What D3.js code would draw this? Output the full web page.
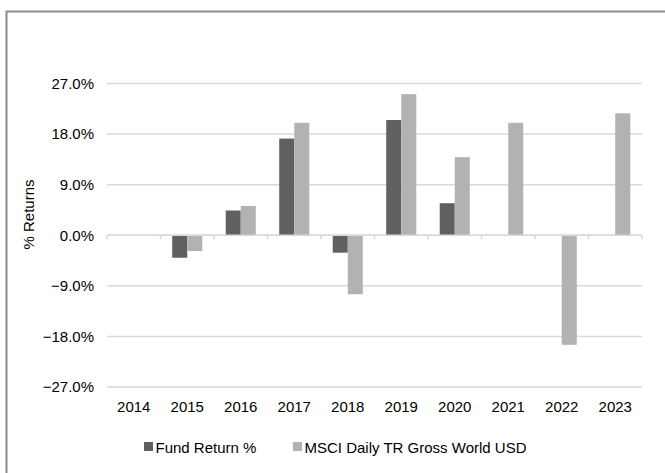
<!DOCTYPE html>
<html>
<head>
<meta charset="utf-8">
<script src="https://cdn.jsdelivr.net/npm/d3@7"></script>
<style>
  body { margin: 0; background: #fff; overflow: hidden; }
  svg { display: block; font-family: "Liberation Sans", Arial, sans-serif; }
</style>
</head>
<body>
<svg id="chart"></svg>
<script>
// data
const years = ["2014", "2015", "2016", "2017", "2018", "2019", "2020", "2021", "2022", "2023"];
const fundReturn = [null, -4.0, 4.4, 17.2, -3.1, 20.5, 5.7, null, null, null];
const msciReturn = [null, -2.8, 5.2, 20.0, -10.5, 25.1, 13.9, 20.0, -19.5, 21.7];
const seriesNames = ["Fund Return %", "MSCI Daily TR Gross World USD"];
const yTicks = [-27, -18, -9, 0, 9, 18, 27];

const width = 665, height = 473;
const colors = ["#606060", "#b2b2b2"];
const gridColor = "#d9d9d9";
const fontSize = 15;

const svg = d3.select("#chart").attr("width", width).attr("height", height);

// outer frame: only the top and left edges are inside the picture
svg.append("path")
  .attr("d", `M6.5,${height} V11.5 H${width}`)
  .attr("fill", "none")
  .attr("stroke", "#8c8c8c")
  .attr("stroke-width", 2);

const plotLeft = 107, plotRight = 642, plotTop = 83.5, plotBottom = 387;

const x = d3.scaleBand().domain(years).range([plotLeft, plotRight]);
const xInner = d3.scaleBand().domain([0, 1]).range([0, x.bandwidth()]).paddingInner(0).paddingOuter(0.78);
const y = d3.scaleLinear().domain([-27, 27]).range([plotBottom, plotTop]);

// gridlines
svg.append("g")
  .selectAll("line")
  .data(yTicks)
  .join("line")
  .attr("x1", plotLeft).attr("x2", plotRight)
  .attr("y1", (d) => y(d)).attr("y2", (d) => y(d))
  .attr("stroke", gridColor)
  .attr("stroke-width", 1.5);

// y labels
svg.append("g")
  .selectAll("text")
  .data(yTicks)
  .join("text")
  .attr("x", 94)
  .attr("y", (d) => y(d))
  .attr("dy", "0.35em")
  .attr("text-anchor", "end")
  .attr("font-size", fontSize)
  .attr("fill", "#000")
  .text((d) => d3.format(".1f")(d) + "%");

// y title
svg.append("text")
  .attr("transform", "translate(34,214.5) rotate(-90)")
  .attr("text-anchor", "middle")
  .attr("font-size", fontSize)
  .text("% Returns");

// bars
const series = [fundReturn, msciReturn];
series.forEach((vals, si) => {
  svg.append("g")
    .selectAll("rect")
    .data(years.map((yr, i) => ({ yr, v: vals[i] })).filter((d) => d.v !== null))
    .join("rect")
    .attr("x", (d) => x(d.yr) + xInner(si))
    .attr("width", xInner.bandwidth())
    .attr("y", (d) => y(Math.max(0, d.v)))
    .attr("height", (d) => Math.abs(y(d.v) - y(0)))
    .attr("fill", colors[si]);
});

// zero axis with category ticks
const xAxis = svg.append("g");
xAxis.append("line")
  .attr("x1", plotLeft).attr("x2", plotRight)
  .attr("y1", y(0)).attr("y2", y(0))
  .attr("stroke", gridColor)
  .attr("stroke-width", 1.5);
xAxis.selectAll("line.tick")
  .data(years.map((d) => x(d)).concat([plotRight]))
  .join("line")
  .attr("class", "tick")
  .attr("x1", (d) => d).attr("x2", (d) => d)
  .attr("y1", y(0)).attr("y2", y(0) + 4)
  .attr("stroke", gridColor)
  .attr("stroke-width", 1.5);

// year labels at the bottom
svg.append("g")
  .selectAll("text")
  .data(years)
  .join("text")
  .attr("x", (d) => x(d) + x.bandwidth() / 2)
  .attr("y", 412)
  .attr("text-anchor", "middle")
  .attr("font-size", fontSize)
  .text((d) => d);

// legend
const legendX = [144, 293];
const legend = svg.append("g")
  .selectAll("g")
  .data(seriesNames)
  .join("g")
  .attr("transform", (d, i) => `translate(${legendX[i]},442)`);
legend.append("rect")
  .attr("width", 9).attr("height", 9)
  .attr("fill", (d, i) => colors[i]);
legend.append("text")
  .attr("x", 11.5).attr("y", 10.5)
  .attr("font-size", fontSize)
  .text((d) => d);
</script>
</body>
</html>
